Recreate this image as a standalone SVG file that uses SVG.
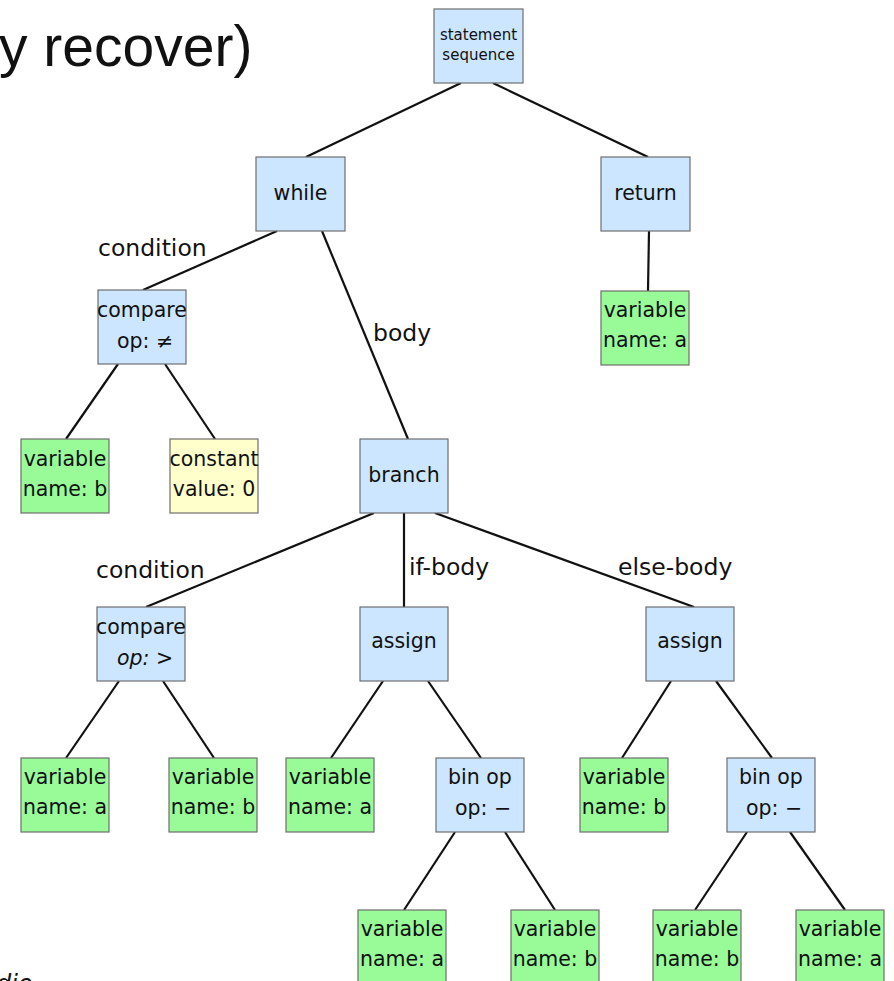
<svg xmlns="http://www.w3.org/2000/svg" width="894" height="981" viewBox="0 0 894 981">
<style>
.n rect{stroke:#6e6e6e;stroke-width:1.2}
.b rect{fill:#cce6ff}
.g rect{fill:#98fb98}
.y rect{fill:#ffffcc}
text{font-family:"DejaVu Sans",sans-serif;fill:#111;text-anchor:middle}
.t{font-size:20.5px}
.s{font-size:15px}
.l{font-size:23.5px;text-anchor:start}
#edges line{stroke:#111;stroke-width:2.2}
</style>
<rect width="894" height="981" fill="#fff"/>
<text x="-1" y="66" style="font-family:'Liberation Sans',Arial,sans-serif;font-size:57px;text-anchor:start">y recover)</text>
<text x="-4" y="992" style="font-family:'DejaVu Sans',sans-serif;font-size:24px;font-style:italic;text-anchor:start">dio</text>
<g id="edges">
<line x1="461" y1="83" x2="306" y2="157"/>
<line x1="493" y1="83" x2="648" y2="157"/>
<line x1="277" y1="231" x2="143" y2="290"/>
<line x1="322" y1="231" x2="408" y2="439"/>
<line x1="649" y1="231" x2="648" y2="291"/>
<line x1="118" y1="364" x2="66" y2="439"/>
<line x1="165" y1="364" x2="215" y2="439"/>
<line x1="374" y1="513" x2="146" y2="607"/>
<line x1="404" y1="513" x2="404" y2="607"/>
<line x1="435" y1="513" x2="694" y2="607"/>
<line x1="119" y1="681" x2="66" y2="758"/>
<line x1="163" y1="681" x2="214" y2="758"/>
<line x1="383" y1="681" x2="331" y2="758"/>
<line x1="428" y1="681" x2="481" y2="758"/>
<line x1="455" y1="832" x2="404" y2="910"/>
<line x1="505" y1="832" x2="555" y2="910"/>
<line x1="671" y1="681" x2="622" y2="758"/>
<line x1="716" y1="681" x2="772" y2="758"/>
<line x1="747" y1="832" x2="695" y2="910"/>
<line x1="790" y1="832" x2="845" y2="910"/>
</g>
<g id="edge-labels">
<text class="l" x="98" y="256">condition</text>
<text class="l" x="373" y="341">body</text>
<text class="l" x="96" y="578">condition</text>
<text class="l" x="409" y="575">if-body</text>
<text class="l" x="618" y="575">else-body</text>
</g>
<g id="n-seq" class="n b"><rect x="434" y="9" width="89" height="74"/><text class="s" x="478.5" y="40">statement</text><text class="s" x="478.5" y="60">sequence</text></g>
<g id="n-while" class="n b"><rect x="256" y="157" width="89" height="74"/><text class="t" x="300.5" y="200">while</text></g>
<g id="n-return" class="n b"><rect x="601" y="157" width="89" height="74"/><text class="t" x="645.5" y="200">return</text></g>
<g id="n-cmp1" class="n b"><rect x="98" y="290" width="88" height="74"/><text class="t" x="142" y="317">compare</text><text class="t" x="145" y="348">op: ≠</text></g>
<g id="n-ret-var" class="n g"><rect x="601" y="291" width="88" height="74"/><text class="t" x="645" y="317">variable</text><text class="t" x="645" y="347">name: a</text></g>
<g id="n-var-b1" class="n g"><rect x="21" y="439" width="88" height="74"/><text class="t" x="65" y="466">variable</text><text class="t" x="65" y="496">name: b</text></g>
<g id="n-const" class="n y"><rect x="170" y="439" width="88" height="74"/><text class="t" x="214" y="466">constant</text><text class="t" x="214" y="496">value: 0</text></g>
<g id="n-branch" class="n b"><rect x="360" y="439" width="88" height="74"/><text class="t" x="404" y="482">branch</text></g>
<g id="n-cmp2" class="n b"><rect x="97" y="607" width="88" height="74"/><text class="t" x="141" y="634">compare</text><text class="t" x="145" y="665" font-style="italic">op: &gt;</text></g>
<g id="n-assign1" class="n b"><rect x="360" y="607" width="88" height="74"/><text class="t" x="404" y="648">assign</text></g>
<g id="n-assign2" class="n b"><rect x="646" y="607" width="88" height="74"/><text class="t" x="690" y="648">assign</text></g>
<g id="n-var-a2" class="n g"><rect x="21" y="758" width="88" height="74"/><text class="t" x="65" y="784">variable</text><text class="t" x="65" y="814">name: a</text></g>
<g id="n-var-b2" class="n g"><rect x="169" y="758" width="88" height="74"/><text class="t" x="213" y="784">variable</text><text class="t" x="213" y="814">name: b</text></g>
<g id="n-var-a3" class="n g"><rect x="286" y="758" width="88" height="74"/><text class="t" x="330" y="784">variable</text><text class="t" x="330" y="814">name: a</text></g>
<g id="n-binop1" class="n b"><rect x="436" y="758" width="88" height="74"/><text class="t" x="480" y="784">bin op</text><text class="t" x="483" y="815">op: −</text></g>
<g id="n-var-b3" class="n g"><rect x="580" y="758" width="88" height="74"/><text class="t" x="624" y="784">variable</text><text class="t" x="624" y="814">name: b</text></g>
<g id="n-binop2" class="n b"><rect x="727" y="758" width="88" height="74"/><text class="t" x="771" y="784">bin op</text><text class="t" x="774" y="815">op: −</text></g>
<g id="n-var-a4" class="n g"><rect x="358" y="910" width="88" height="74"/><text class="t" x="402" y="936">variable</text><text class="t" x="402" y="966">name: a</text></g>
<g id="n-var-b4" class="n g"><rect x="511" y="910" width="88" height="74"/><text class="t" x="555" y="936">variable</text><text class="t" x="555" y="966">name: b</text></g>
<g id="n-var-b5" class="n g"><rect x="653" y="910" width="88" height="74"/><text class="t" x="697" y="936">variable</text><text class="t" x="697" y="966">name: b</text></g>
<g id="n-var-a5" class="n g"><rect x="796" y="910" width="88" height="74"/><text class="t" x="840" y="936">variable</text><text class="t" x="840" y="966">name: a</text></g>
</svg>
